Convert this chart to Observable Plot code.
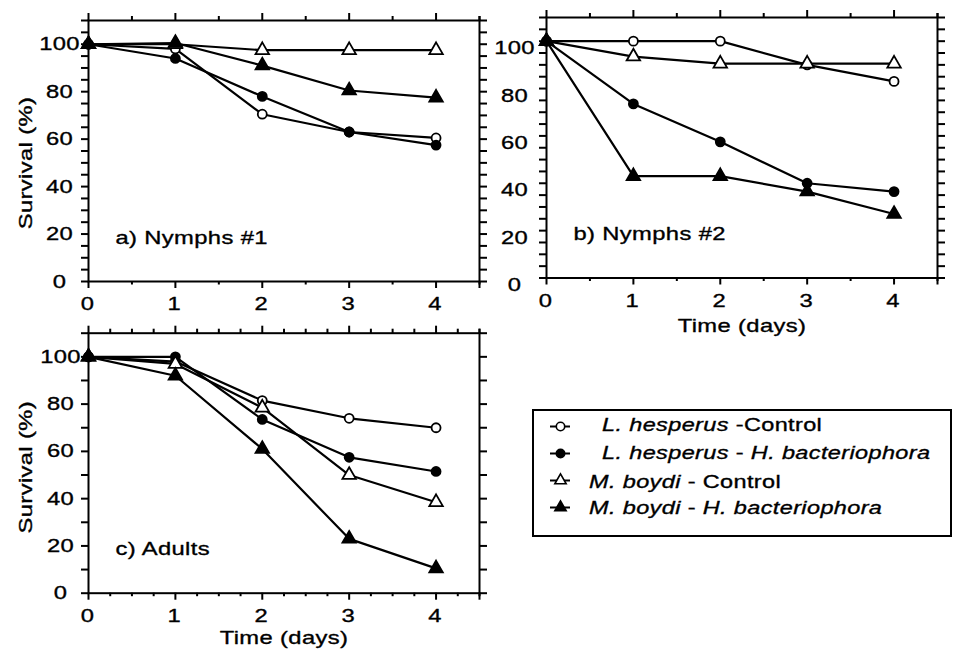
<!DOCTYPE html>
<html><head><meta charset="utf-8">
<script src="https://cdn.jsdelivr.net/npm/d3@7"></script>
<script src="https://cdn.jsdelivr.net/npm/@observablehq/plot@0.6"></script>
<style>
html,body{margin:0;padding:0;background:#fff;overflow:hidden;}
#root{position:relative;width:954px;height:654px;font-family:"Liberation Sans",Arial,Helvetica,sans-serif;color:#000;}
.abs{position:absolute;}
#legend{position:absolute;left:532px;top:409px;width:420px;height:128px;border:2px solid #000;box-sizing:border-box;}
.lt{position:absolute;font-size:18.8px;line-height:22px;letter-spacing:0.3px;white-space:nowrap;-webkit-text-stroke:0.35px #000;transform:scaleX(1.25);transform-origin:0 50%;}
.lt i{font-style:italic;}
</style>
</head><body><div id="root"></div>
<script>
// ---- data ----
const days = [0, 1, 2, 3, 4];
const seriesNames = [
  "L. hesperus - Control",
  "L. hesperus - H. bacteriophora",
  "M. boydi - Control",
  "M. boydi - H. bacteriophora"
];
// a) Nymphs #1
const nymphs1_lhControl = [100, 98, 70.5, 63, 60.5];
const nymphs1_lhHb      = [100, 94, 78, 63, 57.5];
const nymphs1_mbControl = [100, 100, 97.5, 97.5, 97.5];
const nymphs1_mbHb      = [100, 100.5, 91, 80.5, 77.5];
// b) Nymphs #2
const nymphs2_lhControl = [100, 100, 100, 90, 83];
const nymphs2_lhHb      = [100, 73.5, 57.5, 40, 36.5];
const nymphs2_mbControl = [100, 93.5, 90.5, 90.5, 90.5];
const nymphs2_mbHb      = [100, 43, 43, 36.5, 27];
// c) Adults
const adults_lhControl = [100, 98, 81.5, 74, 70];
const adults_lhHb      = [100, 100, 73.5, 57.5, 51.5];
const adults_mbControl = [100, 97, 78.5, 50, 38.5];
const adults_mbHb      = [100, 92, 61, 23, 10.5];

const yLabelTicks = [0, 20, 40, 60, 80, 100];
const panelTitles = ["a) Nymphs #1", "b) Nymphs #2", "c) Adults"];
const yTitle = "Survival (%)";
const xTitle = "Time (days)";

function rows(arrs) {
  const out = [];
  arrs.forEach((vals, i) => vals.forEach((v, j) => out.push({day: days[j], survival: v, series: seriesNames[i]})));
  return out;
}
const dataA = rows([nymphs1_lhControl, nymphs1_lhHb, nymphs1_mbControl, nymphs1_mbHb]);
const dataB = rows([nymphs2_lhControl, nymphs2_lhHb, nymphs2_mbControl, nymphs2_mbHb]);
const dataC = rows([adults_lhControl, adults_lhHb, adults_mbControl, adults_mbHb]);

const symbolScale = {domain: seriesNames, range: ["circle", "circle", "triangle", "triangle"]};
const colorScale = {domain: seriesNames, range: ["white", "black", "white", "black"]};
const FONT = '"Liberation Sans", Arial, Helvetica, sans-serif';
const TXT = {fontSize: 19, fontFamily: FONT, fill: "black", stroke: "black", strokeWidth: 0.35};
const STRETCH = 1.25;

function stretchText(svg) {
  svg.querySelectorAll("text").forEach(t => {
    if (!t.textContent) return;
    const tr = t.getAttribute("transform");
    if (tr) {
      t.setAttribute("transform", tr + ` scale(${STRETCH},1)`);
    } else {
      const x = +(t.getAttribute("x") || 0), y = +(t.getAttribute("y") || 0);
      t.setAttribute("x", 0); t.setAttribute("y", 0);
      t.setAttribute("transform", `translate(${x},${y}) scale(${STRETCH},1)`);
    }
  });
}

function panel(o) {
  const yMinor = d3.range(0, 110.01, o.yStep);
  const xMinor = d3.range(0, 4.51, o.xStep).filter(d => !days.includes(d));
  const marks = [
    Plot.axisY({ticks: yMinor, tickSize: 7, tickFormat: () => "", strokeWidth: 2, label: null}),
    Plot.axisY({anchor: "right", ticks: yMinor, tickSize: 7, tickFormat: () => "", strokeWidth: 2, label: null}),
    Plot.axisX({ticks: days.concat([4.5]), tickSize: 7, tickFormat: () => "", strokeWidth: 2, label: null}),
    Plot.axisX({ticks: xMinor, tickSize: 3.5, tickFormat: () => "", strokeWidth: 2, label: null}),
    Plot.axisX({anchor: "top", ticks: days, tickSize: 8, tickFormat: () => "", strokeWidth: 2, label: null}),
    Plot.axisX({anchor: "top", ticks: xMinor.concat([4.5]), tickSize: 5, tickFormat: () => "", strokeWidth: 2, label: null}),
    Plot.frame({stroke: "black", strokeWidth: 2}),
    Plot.text(days, {...TXT, x: d => d, frameAnchor: "bottom", lineAnchor: "top", dy: 15, dx: -1, text: d => String(d)}),
    Plot.text(yLabelTicks, {...TXT, y: d => d, frameAnchor: "left", textAnchor: "middle", lineAnchor: "middle", dx: o.yLabDx, dy: o.yLabDy, text: d => String(d)}),
    Plot.line(o.data, {x: "day", y: "survival", z: "series", stroke: "black", strokeWidth: 2.2}),
    Plot.dot(o.data, {filter: d => d.series.startsWith("L."), x: "day", y: "survival", symbol: "series", fill: "series", stroke: "black", strokeWidth: 1.8, r: 4.5}),
    Plot.dot(o.data, {filter: d => d.series.startsWith("M."), x: "day", y: "survival", symbol: "series", fill: "series", stroke: "black", strokeWidth: 1.8, r: 5}),
    Plot.text([o.title], {...TXT, frameAnchor: "bottom-left", textAnchor: "start", lineAnchor: "bottom", dx: 27, dy: -38})
  ];
  if (o.yTitle) marks.push(Plot.text([yTitle], {...TXT, frameAnchor: "left", rotate: -90, textAnchor: "middle", lineAnchor: "bottom", dx: -57, dy: o.yTitleDy}));
  if (o.xTitle) marks.push(Plot.text([xTitle], {...TXT, frameAnchor: "bottom", textAnchor: "middle", lineAnchor: "bottom", dy: o.xTitleDy}));
  const svg = Plot.plot({
    width: o.width, height: o.height,
    marginLeft: o.ml, marginRight: o.mr, marginTop: o.mt, marginBottom: o.mb,
    style: {background: "transparent", overflow: "visible", fontFamily: FONT, color: "black"},
    x: {domain: [0, 4.5], axis: null},
    y: {domain: [0, 110], axis: null},
    symbol: symbolScale,
    color: colorScale,
    marks
  });
  stretchText(svg);
  svg.classList.add("abs");
  svg.style.left = o.left + "px";
  svg.style.top = o.top + "px";
  svg.style.letterSpacing = "0.3px";
  return svg;
}

const root = document.getElementById("root");
root.appendChild(panel({data: dataA, title: panelTitles[0], left: 0, top: 0, width: 500, height: 320, ml: 88, mr: 21, mt: 20, mb: 39,
  yStep: 5, xStep: 0.5, yLabDx: -29, yLabDy: 0, yTitle: true, yTitleDy: 12}));
root.appendChild(panel({data: dataB, title: panelTitles[1], left: 458, top: 0, width: 500, height: 340, ml: 88, mr: 21, mt: 17, mb: 62.5,
  yStep: 5, xStep: 0.5, yLabDx: -32, yLabDy: 7, xTitle: true, xTitleDy: 54}));
root.appendChild(panel({data: dataC, title: panelTitles[2], left: 0, top: 312, width: 500, height: 342, ml: 88, mr: 21, mt: 20.7, mb: 61.3,
  yStep: 10, xStep: 0.25, yLabDx: -28, yLabDy: 0, yTitle: true, yTitleDy: 4, xTitle: true, xTitleDy: 51}));

// ---- legend ----
const legend = document.createElement("div");
legend.id = "legend";
root.appendChild(legend);
const sw = Plot.plot({
  width: 40, height: 110, marginLeft: 10, marginRight: 10, marginTop: 15, marginBottom: 11.7,
  style: {background: "transparent", overflow: "visible"},
  x: {axis: null},
  y: {type: "point", domain: seriesNames, padding: 0, axis: null},
  symbol: symbolScale,
  color: colorScale,
  marks: [
    Plot.ruleY(seriesNames, {y: d => d, stroke: "black", strokeWidth: 2}),
    Plot.dot(seriesNames, {y: d => d, frameAnchor: "middle", symbol: d => d, fill: d => d, stroke: "black", strokeWidth: 1.6, r: 4.2})
  ]
});
sw.classList.add("abs");
sw.style.left = "540px";
sw.style.top = "410px";
root.appendChild(sw);

const legendRowsY = [425, 453.3, 481.7, 508.3];
const legendHtml = [
  "<i>L. hesperus</i> -Control",
  "<i>L. hesperus</i> - <i>H. bacteriophora</i>",
  "<i>M. boydi</i> - Control",
  "<i>M. boydi</i> - <i>H. bacteriophora</i>"
];
legendHtml.forEach((h, i) => {
  const d = document.createElement("div");
  d.className = "lt";
  d.innerHTML = h;
  d.style.left = (i < 2 ? 602 : 589) + "px";
  d.style.top = (legendRowsY[i] - 11) + "px";
  root.appendChild(d);
});
</script>
</body></html>
